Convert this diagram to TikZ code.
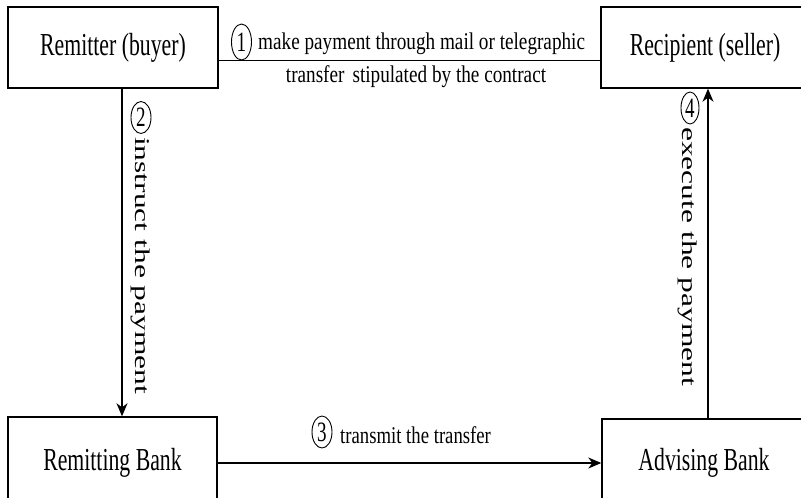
\documentclass[tikz,border=0pt]{standalone}
\usepackage{fontspec}
\usepackage{graphicx}
\setmainfont{Liberation Serif}
\usetikzlibrary{shapes.geometric,arrows.meta}
% horizontally condensed or widened text
\newcommand\wideby[2]{\scalebox{#1}[1]{#2}}
\begin{document}
\begin{tikzpicture}[x=1pt,y=-1pt,
  party/.style={draw, line width=1.4pt, inner sep=0pt,
    font=\fontsize{32}{36}\selectfont},
  flow/.style={line width=1.3pt},
  arr/.style={flow, -{Stealth[length=13pt,width=11pt,inset=4pt]}},
  cnum/.style={draw, ellipse, line width=0.9pt, inner sep=0pt,
    minimum width=20pt, minimum height=32pt,
    font=\fontsize{28}{30}\selectfont},
  lab/.style={inner sep=0pt, font=\fontsize{24}{28}\selectfont},
  side/.style={inner sep=0pt, rotate=-90, anchor=base west,
    font=\fontsize{21}{26}\selectfont}]
\useasboundingbox (0,0) rectangle (801,498);
\clip (0,0) rectangle (801,498);

% the four parties
\node[party, minimum width=210pt, minimum height=81pt] (buyer)  at (113,47.5) {\raisebox{-4pt}{\wideby{0.68}{Remitter (buyer)}}};
\node[party, minimum width=208pt, minimum height=81pt] (seller) at (705,47.5) {\raisebox{-3pt}{\wideby{0.68}{Recipient (seller)}}};
\node[party, minimum width=209pt, minimum height=92pt] (rb)     at (112.5,463) {\wideby{0.68}{Remitting Bank}};
\node[party, minimum width=204pt, minimum height=88pt] (ab)     at (704,463) {\wideby{0.68}{Advising Bank}};

% step 1: contract payment between buyer and seller
\draw[flow] ([yshift=-13pt]buyer.east) -- ([yshift=-13pt]seller.west);
\node[cnum, minimum height=36pt] (c1) at (241.5,42) {\wideby{0.68}{1}};
\node[lab, anchor=base west] (t1a) at (258,49) {\wideby{0.8}{make payment through mail or telegraphic}};
\node[lab, anchor=base] (t1b) at (416,82) {\wideby{0.8}{transfer\, stipulated by the contract}};

% step 2: buyer instructs the remitting bank
\draw[arr] ([xshift=9pt]buyer.south) -- ([xshift=9pt]buyer.south |- rb.north);
\node[cnum] (c2) at (141,117.5) {\wideby{0.68}{2}};
\node[side] (t2) at (135,137) {\wideby{1.5}{instruct the payment}};

% step 3: remitting bank transmits to advising bank
\draw[arr] (rb.east) -- (rb.east -| ab.west);
\node[cnum] (c3) at (322,432) {\wideby{0.68}{3}};
\node[lab, anchor=base west] (t3) at (340,443) {\wideby{0.78}{transmit the transfer}};

% step 4: advising bank pays the seller
\draw[arr] ([xshift=4pt]ab.north) -- ([xshift=4pt]ab.north |- seller.south);
\node[cnum, minimum width=18pt] (c4) at (690,108) {\wideby{0.68}{4}};
\node[side] (t4) at (682,127) {\wideby{1.5}{execute the payment}};
\end{tikzpicture}
\end{document}
